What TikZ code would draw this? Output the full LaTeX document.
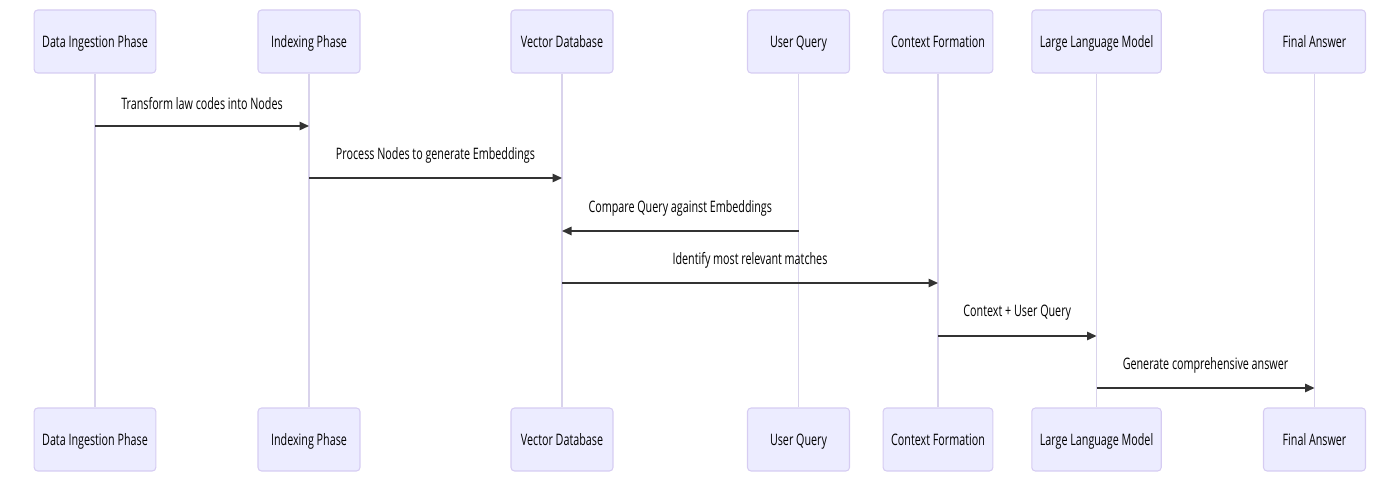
\documentclass[tikz,border=0pt]{standalone}
\usepackage{fontspec}
\setmainfont{Open Sans}[FakeStretch=0.68]
\usepackage{tikz}
\usetikzlibrary{arrows.meta, positioning, calc}

\definecolor{acteurfond}{HTML}{ECECFF}
\definecolor{acteurbord}{HTML}{D6CCF2}
\definecolor{couleurvie}{HTML}{D9D3EC}
\definecolor{couleurmsg}{HTML}{333333}

\tikzset{
  acteur/.style={draw=acteurbord, fill=acteurfond, line width=0.6pt, rounded corners=2pt,
    minimum width=2.04cm, minimum height=1.26cm, inner xsep=0.16cm,
    text height=1.8ex, text depth=0.5ex,
    font=\fontsize{9}{11}\selectfont, text=black},
  lignevie/.style={couleurvie, line width=0.6pt},
  msg/.style={couleurmsg, line width=0.8pt, -{Stealth[length=1.9mm, width=1.7mm, inset=0pt]}},
  etiquette/.style={font=\fontsize{9}{11}\selectfont, text=black, yshift=13pt}
}

\begin{document}
\begin{tikzpicture}[x=0.02cm, y=-0.02cm]
  \useasboundingbox (0,0) rectangle (1400,482);

  % Acteurs (haut et bas) et lignes de vie
  \foreach \nom/\x/\texte in {ing/95/Data Ingestion Phase, idx/309/Indexing Phase,
      vdb/562/Vector Database, uq/798.5/User Query, ctx/938/Context Formation,
      llm/1096.5/Large Language Model, fin/1314.5/Final Answer} {
    \node[acteur] (\nom-h) at (\x,41.5) {\texte};
    \node[acteur] (\nom-b) at (\x,439.5) {\texte};
    \draw[lignevie] (\nom-h) -- (\nom-b);
  }

  % Messages
  \foreach \de/\vers/\y/\texte in {ing/idx/126/Transform law codes into Nodes,
      idx/vdb/178/Process Nodes to generate Embeddings,
      uq/vdb/231/Compare Query against Embeddings,
      vdb/ctx/283/Identify most relevant matches,
      ctx/llm/336/Context + User Query,
      llm/fin/388/Generate comprehensive answer} {
    \draw[msg] (\de-h |- 0,\y) -- (\vers-h |- 0,\y) node[etiquette, midway] {\texte};
  }
\end{tikzpicture}
\end{document}
